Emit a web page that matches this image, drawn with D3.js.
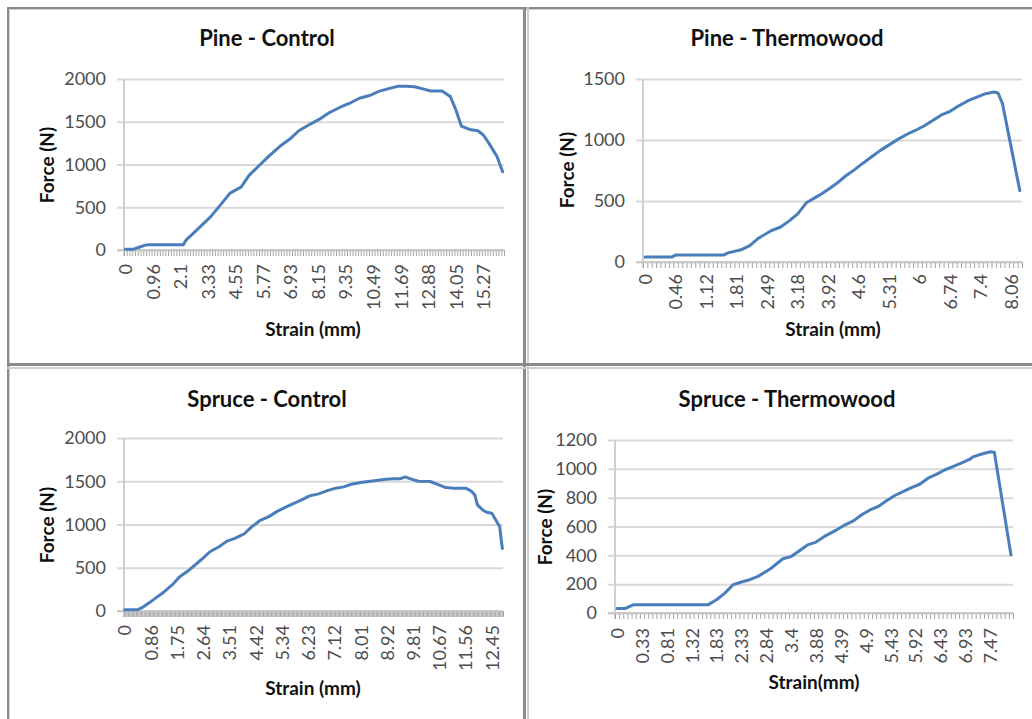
<!DOCTYPE html>
<html>
<head>
<meta charset="utf-8">
<script src="https://cdn.jsdelivr.net/npm/d3@7"></script>
<style>
  body { margin: 0; background: #fff; }
  svg { display: block; font-family: Lato, "Open Sans", sans-serif; }
</style>
</head>
<body>
<div id="chart"></div>
<script>
// ---- Pine - Control (category index -> force) ----
const pineControlLabels = ["0", "0.96", "2.1", "3.33", "4.55", "5.77", "6.93", "8.15", "9.35", "10.49", "11.69", "12.88", "14.05", "15.27"];
const pineControlIndex = [0, 3, 5, 7, 8, 21, 22, 26, 31, 35, 38, 42, 45, 49, 52, 56, 60, 63, 67, 71, 74, 78, 82, 85, 89, 92, 96, 99, 102, 105, 108, 111, 115, 118, 120, 122, 125, 128, 130, 132, 135, 137];
const pineControlForce = [10, 10, 32, 55, 60, 60, 115, 235, 390, 545, 665, 735, 875, 1000, 1095, 1210, 1305, 1395, 1470, 1540, 1605, 1670, 1725, 1775, 1810, 1855, 1890, 1915, 1915, 1910, 1885, 1860, 1860, 1795, 1640, 1450, 1410, 1395, 1345, 1250, 1090, 915];

// ---- Pine - Thermowood ----
const pineThermoLabels = ["0", "0.46", "1.12", "1.81", "2.49", "3.18", "3.92", "4.6", "5.31", "6", "6.74", "7.4", "8.06"];
const pineThermoIndex = [0, 6, 7, 18, 19, 22, 24, 26, 29, 31, 33, 35, 37, 40, 42, 44, 46, 48, 50, 52, 54, 56, 58, 60, 62, 64, 66, 68, 70, 72, 74, 76, 78, 80, 81, 82, 86];
const pineThermoForce = [40, 40, 57, 57, 75, 100, 135, 195, 258, 285, 335, 395, 485, 548, 595, 645, 705, 755, 810, 862, 915, 960, 1005, 1045, 1078, 1115, 1160, 1205, 1235, 1280, 1320, 1350, 1378, 1393, 1385, 1300, 585];

// ---- Spruce - Control ----
const spruceControlLabels = ["0", "0.86", "1.75", "2.64", "3.51", "4.42", "5.34", "6.23", "7.12", "8.01", "8.92", "9.81", "10.67", "11.56", "12.45"];
const spruceControlIndex = [0, 10, 14, 19, 23, 30, 36, 42, 49, 55, 60, 65, 72, 78, 84, 91, 97, 103, 110, 116, 122, 129, 135, 141, 148, 154, 161, 167, 173, 180, 186, 192, 199, 205, 210, 214, 218, 224, 233, 238, 245, 251, 260, 264, 267, 269, 273, 276, 280, 283, 286, 287, 288];
const spruceControlForce = [15, 15, 45, 97, 143, 220, 298, 395, 472, 549, 615, 685, 743, 808, 839, 890, 975, 1044, 1091, 1149, 1195, 1245, 1284, 1331, 1354, 1389, 1420, 1435, 1466, 1485, 1497, 1509, 1524, 1528, 1528, 1550, 1528, 1500, 1497, 1466, 1427, 1420, 1420, 1389, 1342, 1226, 1168, 1141, 1129, 1052, 975, 840, 723];

// ---- Spruce - Thermowood ----
const spruceThermoLabels = ["0", "0.33", "0.81", "1.32", "1.83", "2.33", "2.84", "3.4", "3.88", "4.39", "4.9", "5.43", "5.92", "6.43", "6.93", "7.47"];
const spruceThermoIndex = [0, 2, 4, 22, 24, 26, 28, 30, 32, 34, 37, 40, 42, 44, 46, 48, 50, 53, 55, 57, 59, 61, 63, 65, 67, 69, 71, 73, 75, 77, 79, 81, 83, 85, 86, 88, 90, 91, 95];
const spruceThermoForce = [32, 32, 58, 58, 92, 138, 196, 215, 231, 254, 307, 376, 392, 432, 473, 492, 531, 577, 612, 639, 681, 715, 739, 778, 815, 842, 870, 893, 935, 962, 992, 1015, 1039, 1065, 1085, 1103, 1118, 1115, 404];

const width = 1032, height = 719;
const tickFont = "18px";

const svg = d3.select("#chart").append("svg")
    .attr("width", width)
    .attr("height", height);

// Panel frame (table-like borders around the four charts)
const frame = svg.append("g");
frame.append("rect").attr("x", 7).attr("y", 7).attr("width", width).attr("height", 2).attr("fill", "#8c8c8c");
frame.append("rect").attr("x", 7).attr("y", 7).attr("width", 2).attr("height", height).attr("fill", "#8c8c8c");
frame.append("rect").attr("x", 9).attr("y", 9).attr("width", width).attr("height", 1).attr("fill", "#d0d0d0");
frame.append("rect").attr("x", 9).attr("y", 9).attr("width", 1).attr("height", height).attr("fill", "#d0d0d0");
frame.append("rect").attr("x", 523).attr("y", 7).attr("width", 3).attr("height", height).attr("fill", "#8c8c8c");
frame.append("rect").attr("x", 527).attr("y", 7).attr("width", 2).attr("height", height).attr("fill", "#d0d0d0");
frame.append("rect").attr("x", 7).attr("y", 363).attr("width", width).attr("height", 3).attr("fill", "#8c8c8c");
frame.append("rect").attr("x", 7).attr("y", 367).attr("width", width).attr("height", 2).attr("fill", "#d0d0d0");

const panels = [
    {
        title: "Pine - Control", xTitle: "Strain (mm)",
        labels: pineControlLabels, step: 10, n: 138,
        index: pineControlIndex, force: pineControlForce,
        yMax: 2000, yStep: 500,
        x0: 124, x1: 504, y0: 250, yTop: 79,
        titleX: 267, titleY: 46, forceX: 47, forceY: 165,
        strainX: 313, strainY: 336, labelGap: 14
    },
    {
        title: "Pine - Thermowood", xTitle: "Strain (mm)",
        labels: pineThermoLabels, step: 7, n: 87,
        index: pineThermoIndex, force: pineThermoForce,
        yMax: 1500, yStep: 500,
        x0: 643, x1: 1022, y0: 262, yTop: 79,
        titleX: 787, titleY: 46, forceX: 567, forceY: 170,
        strainX: 833, strainY: 336, labelGap: 12
    },
    {
        title: "Spruce - Control", xTitle: "Strain (mm)",
        labels: spruceControlLabels, step: 20, n: 289,
        index: spruceControlIndex, force: spruceControlForce,
        yMax: 2000, yStep: 500,
        x0: 124, x1: 503, y0: 611, yTop: 438,
        titleX: 267, titleY: 407, forceX: 47, forceY: 525,
        strainX: 313, strainY: 695, labelGap: 14
    },
    {
        title: "Spruce - Thermowood", xTitle: "Strain(mm)",
        labels: spruceThermoLabels, step: 6, n: 96,
        index: spruceThermoIndex, force: spruceThermoForce,
        yMax: 1200, yStep: 200,
        x0: 615, x1: 1013, y0: 613, yTop: 440,
        titleX: 787, titleY: 407, forceX: 545, forceY: 527,
        strainX: 814, strainY: 689, labelGap: 15
    }
];

panels.forEach(p => {
    const g = svg.append("g");

    // Category axis: index i sits at the middle of its slot
    const x = d3.scaleLinear().domain([-0.5, p.n - 0.5]).range([p.x0, p.x1]);
    const y = d3.scaleLinear().domain([0, p.yMax]).range([p.y0, p.yTop]);

    // Horizontal gridlines + y tick labels
    const yAxis = g.append("g")
        .attr("transform", `translate(${p.x1},0)`)
        .call(d3.axisLeft(y)
            .tickValues(d3.range(0, p.yMax + 1, p.yStep))
            .tickFormat(d3.format("d"))
            .tickSize(p.x1 - p.x0 + 7)
            .tickPadding(11));
    yAxis.select(".domain").remove();
    yAxis.selectAll(".tick line").attr("stroke", "#d9d9d9").attr("stroke-width", 2);
    yAxis.selectAll(".tick text")
        .attr("fill", "#4d4d4d")
        .style("font-size", tickFont)
        .style("font-family", "Lato, 'Open Sans', sans-serif");

    // Vertical axis line
    g.append("line")
        .attr("x1", p.x0).attr("x2", p.x0)
        .attr("y1", p.yTop).attr("y2", p.y0 + 6)
        .attr("stroke", "#d0d0d0").attr("stroke-width", 2);

    // Category tick marks (between categories)
    const tickAxis = g.append("g")
        .attr("transform", `translate(0,${p.y0})`)
        .call(d3.axisBottom(x)
            .tickValues(d3.range(-0.5, p.n, 1))
            .tickSize(6)
            .tickFormat(""));
    tickAxis.select(".domain").remove();
    tickAxis.selectAll(".tick line").attr("stroke", "#a6a6a6").attr("stroke-width", 1);

    // Axis line along the bottom
    g.append("line")
        .attr("x1", p.x0 - 7).attr("x2", p.x1)
        .attr("y1", p.y0).attr("y2", p.y0)
        .attr("stroke", "#c8c8c8").attr("stroke-width", 2);

    // Rotated category labels, one every `step` categories
    const labelAxis = g.append("g")
        .attr("transform", `translate(0,${p.y0})`)
        .call(d3.axisBottom(x)
            .tickValues(p.labels.map((d, i) => i * p.step))
            .tickFormat((d, i) => p.labels[i])
            .tickSize(0));
    labelAxis.select(".domain").remove();
    labelAxis.selectAll(".tick text")
        .attr("transform", "rotate(-90)")
        .attr("text-anchor", "end")
        .attr("x", -p.labelGap)
        .attr("y", 0)
        .attr("dy", "0.35em")
        .attr("fill", "#4d4d4d")
        .style("font-size", tickFont)
        .style("font-family", "Lato, 'Open Sans', sans-serif");

    // The force curve
    const line = d3.line()
        .x(d => x(d[0]))
        .y(d => y(d[1]));
    g.append("path")
        .datum(d3.zip(p.index, p.force))
        .attr("d", line)
        .attr("fill", "none")
        .attr("stroke", "#4a7ebb")
        .attr("stroke-width", 3)
        .attr("stroke-linejoin", "round")
        .attr("stroke-linecap", "round");

    // Titles
    g.append("text")
        .attr("x", p.titleX).attr("y", p.titleY)
        .attr("text-anchor", "middle")
        .style("font-size", "22px").style("font-weight", "bold")
        .attr("fill", "#111")
        .text(p.title);

    g.append("text")
        .attr("transform", `translate(${p.forceX},${p.forceY}) rotate(-90)`)
        .attr("text-anchor", "middle")
        .attr("dy", "0.35em")
        .style("font-size", "19px").style("font-weight", "bold")
        .attr("fill", "#111")
        .text("Force (N)");

    g.append("text")
        .attr("x", p.strainX).attr("y", p.strainY)
        .attr("text-anchor", "middle")
        .style("font-size", "19px").style("font-weight", "bold")
        .attr("fill", "#111")
        .text(p.xTitle);
});
</script>
</body>
</html>
